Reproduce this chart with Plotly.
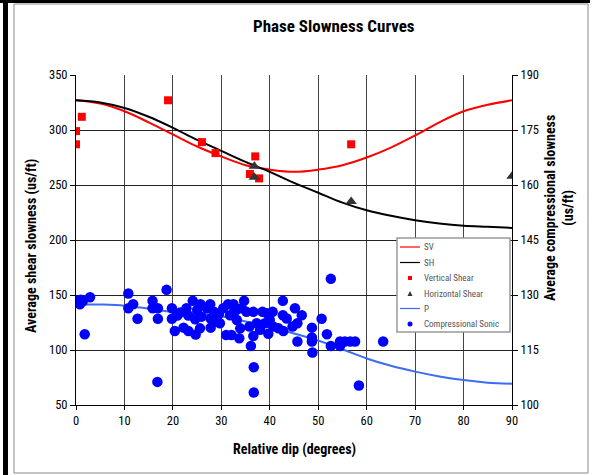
import plotly.graph_objects as go

# ---- curve data (degrees -> slowness) ----
curve_dip = [0, 5, 10, 15, 20, 25, 30, 35, 40, 45, 50, 55, 60, 65, 70, 75, 80, 85, 90]
sv_vals = [327, 324, 317, 307, 296, 285, 276, 268, 264, 262, 264, 268, 275, 284, 295, 307, 317, 323, 327]
sh_vals = [327, 325, 320, 312, 302, 291, 281, 271, 262, 252, 243, 234, 227, 222, 218, 215, 213, 212, 211]
p_vals = [127.5, 127.4, 127.1, 126.3, 125.4, 124.9, 124.2, 122.8, 121.2, 119.5, 117.6, 115.2,
          112.7, 110.7, 109.1, 107.8, 106.8, 106.1, 105.8]

# ---- measured points ----
vs_dip = [0, 0, 1.2, 19, 26, 28.8, 37, 35.9, 37.8, 56.8]
vs_vals = [299, 287, 312, 327, 289, 279, 276, 260, 256, 287]

hs_dip = [36.8, 36.8, 56.8, 90]
hs_vals = [267, 257, 235, 258]

cs_dip = [0, 1.0, 0.8, 1.4, 2.9, 1.8, 10.8, 10.8, 11.8, 12.7, 15.8, 15.8, 16.9, 16.9, 18.7, 16.8,
          19.8, 19.8, 20.4, 20.9, 22.2, 22.8, 23.2, 23.2, 24.1, 24.6, 24.7, 25.0, 25.6, 25.7, 25.9,
          27.0, 27.7, 27.8, 27.8, 28.5, 29.0, 29.7, 30.4, 31.0, 31.4, 31.8, 32.1, 32.5, 32.6, 33.2,
          33.7, 33.9, 34.2, 34.7, 35.2, 35.8, 36.1, 36.6, 36.6, 36.7, 36.7, 37.3, 38.0, 38.5, 39.0,
          39.4, 39.7, 40.0, 40.6, 40.7, 41.8, 42.7, 42.7, 42.8, 43.5, 44.7, 45.2, 45.7, 45.7, 46.6,
          48.7, 48.7, 48.7, 48.8, 50.7, 51.8, 52.6, 52.6, 54.5, 55.5, 56.6, 57.6, 54.5, 58.4, 63.4,
          21.5, 29.5, 33.0]
cs_vals = [128.4, 128.7, 127.5, 128.3, 129.4, 119.3, 130.4, 126.4, 127.5, 123.5, 128.4, 126.4,
           126.4, 123.5, 131.4, 106.3, 126.4, 123.5, 120.2, 124.4, 121.1, 126.4, 124.4, 120.2,
           128.4, 123.4, 119.2, 125.9, 120.9, 127.5, 124.1, 126.4, 127.5, 123.6, 121.1, 125.4,
           122.7, 122.3, 126.4, 119.1, 127.5, 124.5, 119.1, 127.5, 125.4, 123.2, 118.2, 120.9,
           126.4, 128.4, 125.4, 121.4, 116.1, 118.8, 125.4, 110.3, 103.4, 122.3, 120.5, 125.4,
           122.3, 125.0, 119.4, 123.2, 125.4, 121.4, 120.9, 124.5, 128.4, 120.2, 123.6, 121.4,
           126.4, 117.3, 122.3, 124.5, 121.1, 118.4, 117.3, 114.3, 123.5, 119.3, 134.4, 116.1,
           117.3, 117.3, 117.3, 117.3, 116.1, 105.3, 117.3, 125.2, 124.8, 125.8]

x_ticks = [0, 10, 20, 30, 40, 50, 60, 70, 80, 90]
y_ticks = [50, 100, 150, 200, 250, 300, 350]
y2_ticks = [100, 115, 130, 145, 160, 175, 190]

legend_names = ["SV", "SH", "Vertical Shear", "Horizontal Shear", "P", "Compressional Sonic"]

FONT = "Liberation Sans Narrow, Arial Narrow, Roboto Condensed, Roboto, Liberation Sans, sans-serif"

RED, BLACK, TRI, PBLUE, DOT = "#ff0000", "#000000", "#333333", "#3a6cf4", "#0000ff"

fig = go.Figure()
fig.add_trace(go.Scatter(x=curve_dip, y=sv_vals, mode="lines", name=legend_names[0],
                         line=dict(color=RED, width=2, shape="spline")))
fig.add_trace(go.Scatter(x=curve_dip, y=sh_vals, mode="lines", name=legend_names[1],
                         line=dict(color=BLACK, width=2, shape="spline")))
fig.add_trace(go.Scatter(x=vs_dip, y=vs_vals, mode="markers", name=legend_names[2],
                         marker=dict(symbol="square", color=RED, size=8)))
fig.add_trace(go.Scatter(x=hs_dip, y=hs_vals, mode="markers", name=legend_names[3],
                         marker=dict(symbol="triangle-up", color=TRI, size=10)))
fig.add_trace(go.Scatter(x=curve_dip, y=p_vals, mode="lines", name=legend_names[4], yaxis="y2",
                         line=dict(color=PBLUE, width=2, shape="spline")))
fig.add_trace(go.Scatter(x=cs_dip, y=cs_vals, mode="markers", name=legend_names[5],
                         yaxis="y2", marker=dict(symbol="circle", color=DOT, size=10.5)))

L, R, T, B = 76, 83, 75, 70
W, H = 595, 475
pw, ph = W - L - R, H - T - B


def px(x):
    return (x - L) / pw


def py(y):
    return (H - B - y) / ph


shapes = [
    # outer frame decoration
    dict(type="rect", xref="paper", yref="paper", x0=px(14), x1=px(588), y0=py(473), y1=py(4),
         line=dict(color="#888888", width=1), fillcolor="rgba(0,0,0,0)", layer="below"),
    dict(type="rect", xref="paper", yref="paper", x0=px(0), x1=px(590), y0=py(3), y1=py(0),
         line=dict(width=0), fillcolor="#000000"),
    dict(type="rect", xref="paper", yref="paper", x0=px(3), x1=px(8), y0=py(475), y1=py(0),
         line=dict(width=0), fillcolor="#000000"),
    # legend box
    dict(type="rect", xref="paper", yref="paper", x0=px(397), x1=px(510), y0=py(332), y1=py(238),
         line=dict(color="#999999", width=1.5), fillcolor="white", layer="above"),
]

annotations = [
    dict(text="<b>Average shear slowness (us/ft)</b>", xref="paper", yref="paper",
         x=px(31), y=py(246), textangle=-90, showarrow=False, xanchor="center", yanchor="middle",
         font=dict(family=FONT, size=14, color="#000")),
    dict(text="<b>Average compressional slowness<br>(us/ft)</b>", xref="paper", yref="paper",
         x=px(559), y=py(208), textangle=-90, showarrow=False, xanchor="center", yanchor="middle",
         font=dict(family=FONT, size=14, color="#000")),
    dict(text="<b>Relative dip (degrees)</b>", xref="paper", yref="paper",
         x=px(294), y=py(449), showarrow=False, xanchor="center", yanchor="middle",
         font=dict(family=FONT, size=14, color="#000")),
    dict(text="<b>Phase Slowness Curves</b>", xref="paper", yref="paper",
         x=px(334), y=py(26), showarrow=False, xanchor="center", yanchor="middle",
         font=dict(family=FONT, size=17, color="#000")),
]

# custom compact legend (entries from legend_names, styled like the traces)
entry_y = [247, 262.5, 278, 293.5, 308.5, 324]
kinds = [("line", RED), ("line", BLACK), ("square", RED), ("tri", TRI), ("line", PBLUE), ("dot", DOT)]
for name, ey, (kind, col) in zip(legend_names, entry_y, kinds):
    if kind == "line":
        shapes.append(dict(type="line", xref="paper", yref="paper", x0=px(400), x1=px(420),
                           y0=py(ey), y1=py(ey), line=dict(color=col, width=1.2), layer="above"))
    elif kind == "square":
        shapes.append(dict(type="rect", xref="paper", yref="paper", x0=px(408), x1=px(412),
                           y0=py(ey + 2), y1=py(ey - 2), line=dict(width=0), fillcolor=col,
                           layer="above"))
    elif kind == "dot":
        shapes.append(dict(type="circle", xref="paper", yref="paper", x0=px(407.5), x1=px(412.5),
                           y0=py(ey + 2.5), y1=py(ey - 2.5), line=dict(width=0), fillcolor=col,
                           layer="above"))
    else:
        shapes.append(dict(type="path", xref="paper", yref="paper",
                           path="M {} {} L {} {} L {} {} Z".format(px(407.5), py(ey + 2.5), px(412.5),
                                                                   py(ey + 2.5), px(410), py(ey - 2.5)),
                           line=dict(width=0), fillcolor=col, layer="above"))
    annotations.append(dict(text=name, xref="paper", yref="paper", x=px(422), y=py(ey),
                            xanchor="left", yanchor="middle", showarrow=False,
                            font=dict(family=FONT, size=9, color="#555")))

fig.update_layout(
    width=W, height=H,
    margin=dict(l=L, r=R, t=T, b=B),
    paper_bgcolor="white", plot_bgcolor="white",
    font=dict(family=FONT, size=12, color="#000"),
    showlegend=False,
    xaxis=dict(range=[0, 90], tickvals=x_ticks, showgrid=True, gridcolor="#444444",
               gridwidth=1, zeroline=False, showline=True, linecolor="#000", linewidth=1,
               ticks="outside", ticklen=4, tickcolor="#000", mirror=False,
               tickfont=dict(family=FONT, size=12.5)),
    yaxis=dict(range=[50, 350], tickvals=y_ticks, showgrid=True, gridcolor="#222222",
               gridwidth=1, zeroline=False, showline=True, linecolor="#000", linewidth=1,
               ticks="outside", ticklen=5, tickcolor="#000",
               tickfont=dict(family=FONT, size=12.5)),
    yaxis2=dict(range=[100, 190], tickvals=y2_ticks, overlaying="y", side="right",
                showgrid=False, zeroline=False, showline=True, linecolor="#000", linewidth=1,
                ticks="outside", ticklen=5, tickcolor="#000",
                tickfont=dict(family=FONT, size=12.5)),
    shapes=shapes,
    annotations=annotations,
)

fig.write_html("out.html")
